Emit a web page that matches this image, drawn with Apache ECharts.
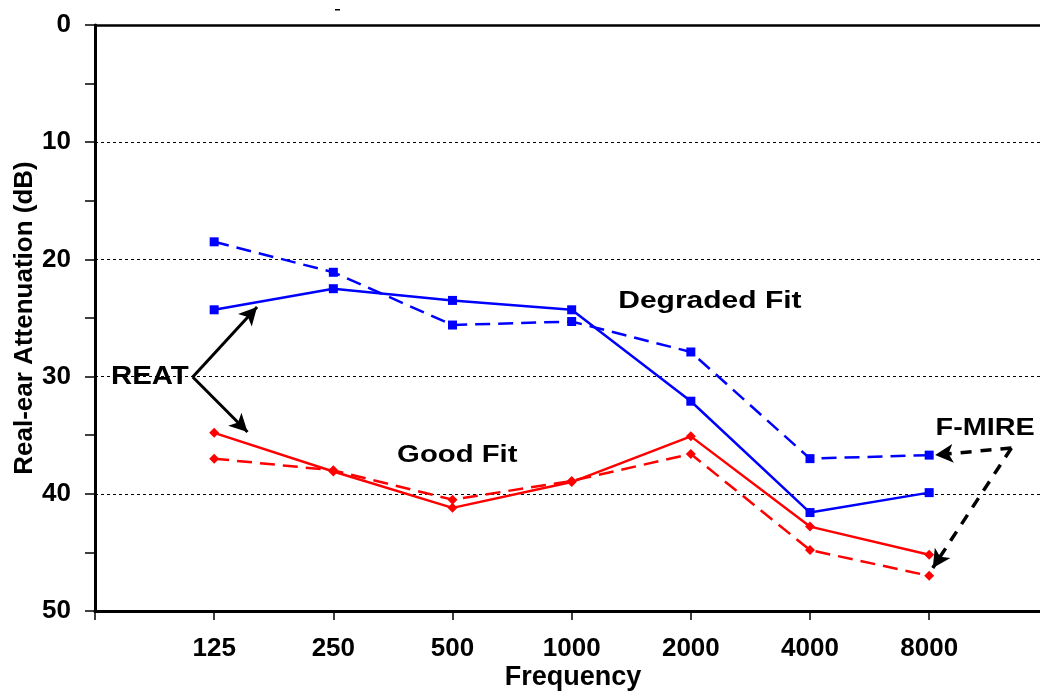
<!DOCTYPE html>
<html>
<head>
<meta charset="utf-8">
<script src="https://cdn.jsdelivr.net/npm/echarts@6/dist/echarts.min.js"></script>
<style>
  html, body { margin: 0; padding: 0; background: #fff; }
  #chart { width: 1040px; height: 691px; }
</style>
</head>
<body>
<div id="chart"></div>
<script>
// Test frequencies (Hz), one slot per category along the x axis
const freqLabels = ['125', '250', '500', '1000', '2000', '4000', '8000'];

// Real-ear attenuation (dB) per frequency
const degradedReat  = [24.3, 22.5, 23.5, 24.3, 32.1, 41.6, 39.9];
const degradedFmire = [18.5, 21.1, 25.6, 25.3, 27.9, 37.0, 36.7];
const goodReat      = [34.8, 38.1, 41.2, 39.0, 35.1, 42.8, 45.2];
const goodFmire     = [37.0, 38.0, 40.5, 38.9, 36.6, 44.8, 47.0];

// Attenuation axis ticks
const yTicks = [0, 10, 20, 30, 40, 50];

// Callout texts, anchored in data space [slot, dB]
const calloutTexts = ['Degraded Fit', 'Good Fit', 'REAT', 'F-MIRE'];
const calloutAnchors = [[5.16, 23.55], [3.04, 36.75], [0.46, 30.05], [7.47, 34.42]];

// Arrow pointers: [start, end] in data space
const reatArrows  = [[[0.82, 30.03], [1.36, 24.06]], [[0.82, 30.03], [1.28, 34.73]]];
const fmireArrows = [[[7.69, 36.09], [7.05, 36.69]], [[7.69, 36.09], [7.03, 46.33]]];

const FONT = '"Liberation Sans", Arial, sans-serif';
const BLUE = '#0000ff';
const RED = '#ff0000';

const slots = freqLabels.map((_, i) => i + 1);
const toPoints = arr => arr.map((v, i) => [slots[i], v]);
const toArrowData = arr => arr.map(([a, b]) => [{ coord: a }, { coord: b }]);

function lineSeries(name, values, color, dashed, symbol, size) {
  return {
    name: name,
    type: 'line',
    data: toPoints(values),
    symbol: symbol,
    symbolSize: size,
    showSymbol: true,
    itemStyle: { color: color },
    lineStyle: { color: color, width: 2.5, type: dashed ? [15, 8] : 'solid' },
    z: 3
  };
}

function pointerSeries(name, arrows, lineType, width) {
  return {
    name: name,
    type: 'line',
    data: [],
    markLine: {
      silent: true,
      animation: false,
      symbol: ['none', 'arrow'],
      symbolSize: [14, 18],
      label: { show: false },
      lineStyle: { color: '#000', width: width, type: lineType },
      data: toArrowData(arrows)
    }
  };
}

const chart = echarts.init(document.getElementById('chart'), null, { renderer: 'canvas' });

chart.setOption({
  animation: false,
  backgroundColor: '#fff',
  grid: { left: 95, top: 25, right: 0, bottom: 80, containLabel: false, outerBoundsMode: 'none' },
  xAxis: [
    {
      type: 'value',
      min: 0,
      max: 7.93,
      interval: 1,
      name: 'Frequency',
      nameLocation: 'middle',
      nameGap: 53,
      nameMoveOverlap: false,
      nameTextStyle: { fontFamily: FONT, fontWeight: 'bold', fontSize: 27, color: '#000', padding: [0, 0, 0, 11] },
      axisLine: { show: true, onZero: false, lineStyle: { color: '#000', width: 3 } },
      axisTick: { show: true, length: 9, customValues: [0].concat(slots), lineStyle: { color: '#000', width: 1.5 } },
      axisLabel: {
        margin: 25,
        customValues: slots,
        fontFamily: FONT, fontWeight: 'bold', fontSize: 26, color: '#000',
        formatter: v => freqLabels[Math.round(v) - 1] || ''
      },
      splitLine: { show: false }
    },
    {
      type: 'value',
      position: 'top',
      min: 0,
      max: 7.93,
      axisLine: { show: true, onZero: false, lineStyle: { color: '#000', width: 2.5 } },
      axisTick: { show: false },
      axisLabel: { show: false },
      splitLine: { show: false }
    }
  ],
  yAxis: {
    type: 'value',
    inverse: true,
    min: yTicks[0],
    max: yTicks[yTicks.length - 1],
    interval: 10,
    name: 'Real-ear Attenuation (dB)',
    nameLocation: 'middle',
    nameGap: 57,
    nameMoveOverlap: false,
    nameTextStyle: { fontFamily: FONT, fontWeight: 'bold', fontSize: 26, color: '#000' },
    axisLine: { show: true, onZero: false, lineStyle: { color: '#000', width: 3 } },
    axisTick: { show: true, length: 10, lineStyle: { color: '#000', width: 1.5 } },
    minorTick: { show: true, splitNumber: 2, length: 10, lineStyle: { color: '#000', width: 1.5 } },
    axisLabel: {
      margin: 24,
      fontFamily: FONT, fontWeight: 'bold', fontSize: 26, color: '#000',
      formatter: v => (yTicks.indexOf(v) >= 0 ? String(v) : '')
    },
    splitLine: { show: true, lineStyle: { color: '#000', width: 1, type: [3, 3] } }
  },
  series: [
    lineSeries('Degraded Fit REAT', degradedReat, BLUE, false, 'rect', 9),
    lineSeries('Degraded Fit F-MIRE', degradedFmire, BLUE, true, 'rect', 9),
    lineSeries('Good Fit REAT', goodReat, RED, false, 'diamond', 10),
    lineSeries('Good Fit F-MIRE', goodFmire, RED, true, 'diamond', 10),
    pointerSeries('REAT pointers', reatArrows, 'solid', 3),
    pointerSeries('F-MIRE pointers', fmireArrows, [11, 9], 3.5)
  ]
});

// Callout texts, positioned from their data-space anchors
const textSizes = [24, 24, 26, 24];
const textScales = [1.25, 1.22, 1.13, 1.2];
const graphics = calloutTexts.map((t, i) => {
  const p = chart.convertToPixel({ gridIndex: 0 }, calloutAnchors[i]);
  return {
    type: 'text',
    x: p[0],
    y: p[1],
    scaleX: textScales[i],
    originX: 0,
    originY: 0,
    silent: true,
    z: 10,
    style: {
      text: t,
      fill: '#000',
      font: 'bold ' + textSizes[i] + 'px ' + FONT,
      textAlign: 'center',
      textVerticalAlign: 'middle'
    }
  };
});
// small stray mark above the frame
graphics.push({
  type: 'rect',
  shape: { x: 335, y: 9, width: 5, height: 1.5 },
  style: { fill: '#000' },
  silent: true
});
chart.setOption({ graphic: graphics });
</script>
</body>
</html>
